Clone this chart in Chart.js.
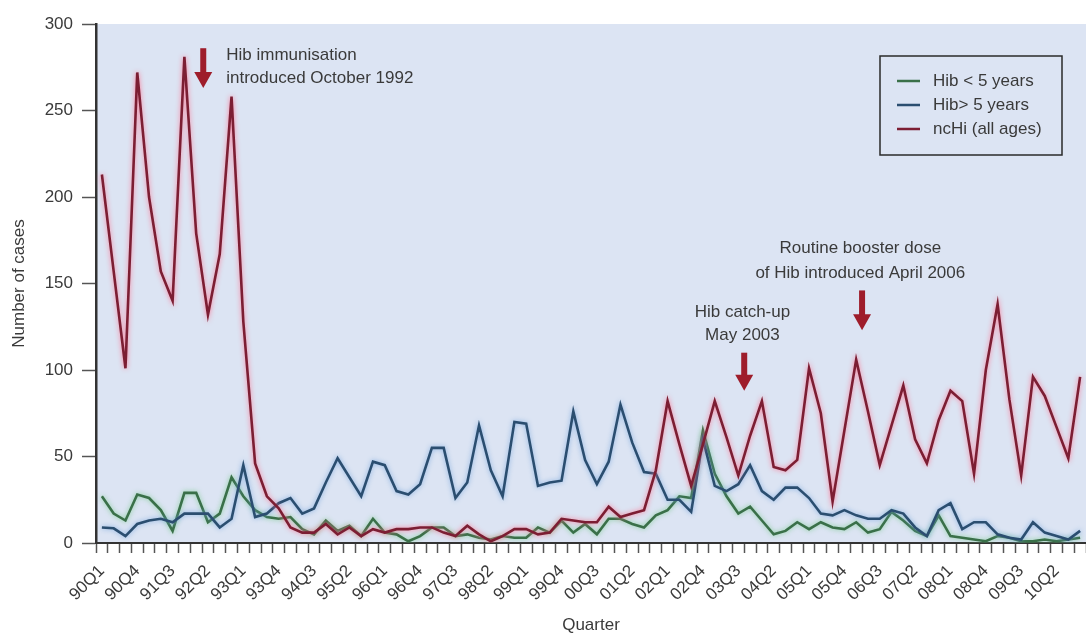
<!DOCTYPE html>
<html>
<head>
<meta charset="utf-8">
<script src="https://cdn.jsdelivr.net/npm/chart.js@4.4.1/dist/chart.umd.min.js"></script>
<style>
  html, body { margin: 0; padding: 0; background: #fff; }
  #wrap { width: 1086px; height: 644px; }
</style>
</head>
<body>
<div id="wrap"><canvas id="hibChart" width="1086" height="644"></canvas></div>
<script>
// Quarterly case counts, 1990 Q1 - 2010 Q4
const quarters = [
  '90Q1','90Q2','90Q3','90Q4','91Q1','91Q2','91Q3','91Q4','92Q1','92Q2','92Q3','92Q4',
  '93Q1','93Q2','93Q3','93Q4','94Q1','94Q2','94Q3','94Q4','95Q1','95Q2','95Q3','95Q4',
  '96Q1','96Q2','96Q3','96Q4','97Q1','97Q2','97Q3','97Q4','98Q1','98Q2','98Q3','98Q4',
  '99Q1','99Q2','99Q3','99Q4','00Q1','00Q2','00Q3','00Q4','01Q1','01Q2','01Q3','01Q4',
  '02Q1','02Q2','02Q3','02Q4','03Q1','03Q2','03Q3','03Q4','04Q1','04Q2','04Q3','04Q4',
  '05Q1','05Q2','05Q3','05Q4','06Q1','06Q2','06Q3','06Q4','07Q1','07Q2','07Q3','07Q4',
  '08Q1','08Q2','08Q3','08Q4','09Q1','09Q2','09Q3','09Q4','10Q1','10Q2','10Q3','10Q4'
];

const hibUnder5 = [
  27, 17, 13, 28, 26, 19, 7, 29, 29, 12, 17, 38,
  27, 19, 15, 14, 15, 8, 5, 13, 7, 10, 4, 14,
  6, 5, 1, 4, 9, 9, 4, 5, 3, 2, 4, 3,
  3, 9, 6, 13, 6, 11, 5, 14, 14, 11, 9, 16,
  19, 27, 26, 65, 40, 27, 17, 21, 13, 5, 7, 12,
  8, 12, 9, 8, 12, 6, 8, 18, 13, 7, 4, 16,
  4, 3, 2, 1, 4, 3, 1, 1, 2, 1, 2, 3
];

const hibOver5 = [
  9, 8.5, 4, 11, 13, 14, 12, 17, 17, 17, 9, 14,
  45, 15, 17, 23, 26, 17, 20, 35, 49, 38, 27, 47,
  45, 30, 28, 34, 55, 55, 26, 35, 68, 42, 27, 70,
  69, 33, 35, 36, 76, 48, 34, 47, 80, 58, 41, 40,
  25, 25, 18, 60, 33, 30, 34, 45, 30, 25, 32, 32,
  26, 17, 16, 19, 16, 14, 14, 19, 17, 9, 4, 19,
  23, 8, 12, 12, 5, 3, 2, 12, 6, 4, 2, 7
];

const ncHi = [
  213, 157, 101, 272, 200, 157, 140, 281, 179, 132, 167, 258,
  128, 46, 27, 20, 9, 6, 6, 11, 5, 9, 4, 8,
  6, 8, 8, 9, 9, 6, 4, 10, 5, 1, 4, 8,
  8, 5, 6, 14, 13, 12, 12, 21, 15, 17, 19, 42,
  82, 57, 33, 57, 82, 61, 39, 62, 82, 44, 42, 48,
  101, 75, 24, 65, 106, 76, 45, 68, 91, 60, 46, 71,
  88, 82, 40, 100, 138, 83, 39, 96, 85, 67, 49, 96
];

// Annotations placed in data space (x = quarter index, y = cases)
const notes = [
  { lines: ['Hib immunisation', 'introduced October 1992'], x: 10.55, y: [282, 268.5], align: 'left' },
  { lines: ['Routine booster dose', 'of Hib introduced April 2006'], x: 64.35, y: [170.5, 156], align: 'center' },
  { lines: ['Hib catch-up', 'May 2003'], x: 54.35, y: [133.5, 120], align: 'center' }
];
const arrows = [
  { x: 8.6, from: 286, to: 263 },
  { x: 64.5, from: 146, to: 123 },
  { x: 54.5, from: 110, to: 88 }
];

const FONT = '"Liberation Sans", Arial, sans-serif';
const TEXT = '#3a3a3a';
const ARROW = '#9e1d2b';

const plotBackground = {
  id: 'plotBackground',
  beforeDraw(chart) {
    const { ctx, chartArea: a } = chart;
    ctx.save();
    ctx.fillStyle = '#dce4f3';
    ctx.fillRect(a.left, a.top, a.right - a.left, a.bottom - a.top);
    ctx.restore();
  }
};

// soft halo round each line
const lineGlow = {
  id: 'lineGlow',
  beforeDatasetDraw(chart, args) {
    const ds = chart.data.datasets[args.index];
    chart.ctx.save();
    chart.ctx.shadowColor = ds.glowColor;
    chart.ctx.shadowBlur = 5;
  },
  afterDatasetDraw(chart) {
    chart.ctx.restore();
  }
};

const annotations = {
  id: 'annotations',
  afterDraw(chart) {
    const { ctx, scales: { x, y } } = chart;
    ctx.save();
    ctx.fillStyle = TEXT;
    ctx.font = '17px ' + FONT;
    ctx.textBaseline = 'middle';
    notes.forEach(n => {
      ctx.textAlign = n.align;
      n.lines.forEach((t, i) => ctx.fillText(t, x.getPixelForValue(n.x), y.getPixelForValue(n.y[i])));
    });
    ctx.fillStyle = ARROW;
    arrows.forEach(a => {
      const px = x.getPixelForValue(a.x);
      const top = y.getPixelForValue(a.from);
      const tip = y.getPixelForValue(a.to);
      const headLen = 16;
      ctx.fillRect(px - 3, top, 6, tip - top - headLen + 1);
      ctx.beginPath();
      ctx.moveTo(px - 9, tip - headLen);
      ctx.lineTo(px + 9, tip - headLen);
      ctx.lineTo(px, tip);
      ctx.closePath();
      ctx.fill();
    });
    ctx.restore();
  }
};

const legendBox = {
  id: 'legendBox',
  afterDraw(chart) {
    const { ctx, chartArea: a } = chart;
    const left = a.right - 206, top = a.top + 32, w = 182, h = 99;
    ctx.save();
    ctx.strokeStyle = '#2a2a2a';
    ctx.lineWidth = 1.5;
    ctx.strokeRect(left, top, w, h);
    ctx.font = '17px ' + FONT;
    ctx.textBaseline = 'middle';
    ctx.textAlign = 'left';
    chart.data.datasets.forEach((ds, i) => {
      const ry = top + 25 + i * 24;
      ctx.strokeStyle = ds.borderColor;
      ctx.lineWidth = 2.5;
      ctx.beginPath();
      ctx.moveTo(left + 17, ry);
      ctx.lineTo(left + 40, ry);
      ctx.stroke();
      ctx.fillStyle = TEXT;
      ctx.fillText(ds.label, left + 53, ry);
    });
    ctx.restore();
  }
};

const ctx = document.getElementById('hibChart').getContext('2d');
new Chart(ctx, {
  type: 'line',
  data: {
    labels: quarters,
    datasets: [
      { label: 'Hib < 5 years', data: hibUnder5, borderColor: '#3a7049', glowColor: 'rgba(110,200,130,0.8)', order: 3 },
      { label: 'Hib> 5 years', data: hibOver5, borderColor: '#2b4e70', glowColor: 'rgba(110,160,220,0.8)', order: 2 },
      { label: 'ncHi (all ages)', data: ncHi, borderColor: '#7c1e33', glowColor: 'rgba(255,110,140,0.9)', order: 1 }
    ]
  },
  options: {
    responsive: false,
    animation: false,
    layout: { padding: { top: 24, right: 0, left: 0, bottom: 0 } },
    elements: {
      line: { borderWidth: 2.6, tension: 0 },
      point: { radius: 0 }
    },
    plugins: {
      legend: { display: false },
      tooltip: { enabled: false }
    },
    scales: {
      x: {
        offset: true,
        grid: { offset: true, drawOnChartArea: false, tickLength: 10, tickColor: '#555', tickWidth: 1.5 },
        border: { color: '#333', width: 2 },
        ticks: {
          autoSkip: false,
          minRotation: 45,
          maxRotation: 45,
          padding: 8,
          color: TEXT,
          font: { family: FONT, size: 17 },
          callback: function (v, i) { return i % 3 === 0 ? this.getLabelForValue(v) : ''; }
        },
        title: { display: true, text: 'Quarter', color: TEXT, font: { family: FONT, size: 17 }, padding: { top: 0, bottom: 8 } },
        afterFit: s => { s.height = 101; s.paddingRight = 0; s.paddingLeft = 0; }
      },
      y: {
        min: 0,
        max: 300,
        grid: { drawOnChartArea: false, tickLength: 14, tickColor: '#555', tickWidth: 1.5 },
        border: { color: '#333', width: 2.5 },
        ticks: { stepSize: 50, padding: 9, color: TEXT, font: { family: FONT, size: 17 } },
        title: { display: true, text: 'Number of cases', color: TEXT, font: { family: FONT, size: 17 }, padding: { top: 9, bottom: 0 } },
        afterFit: s => { s.width = 96; }
      }
    }
  },
  plugins: [plotBackground, lineGlow, annotations, legendBox]
});
</script>
</body>
</html>
